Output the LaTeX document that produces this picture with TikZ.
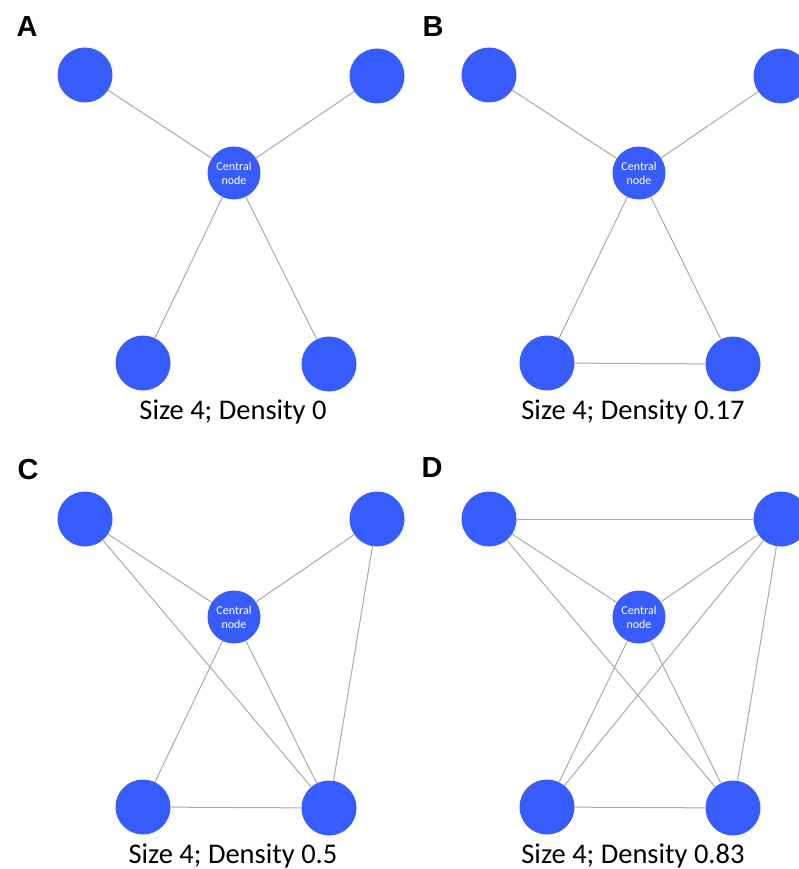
\documentclass[tikz,border=0pt]{standalone}
\usepackage{fontspec}
\setmainfont{Carlito}
\newfontfamily\panelfont{Liberation Sans}
\definecolor{nodeblue}{RGB}{56,92,252}
\definecolor{edgegray}{RGB}{170,170,170}
\begin{document}
\begin{tikzpicture}[x=1pt,y=-1pt,
  outer/.style={circle,fill=nodeblue,minimum size=55pt,inner sep=0pt},
  central/.style={circle,fill=nodeblue,minimum size=53pt,inner sep=0pt,text=white,align=center,font=\fontsize{12}{14}\selectfont},
  edge/.style={draw=edgegray,line width=1pt},
  caption/.style={font=\fontsize{28.5}{30}\selectfont,anchor=base},
  paneltag/.style={font=\panelfont\bfseries\fontsize{29}{30}\selectfont}]
\useasboundingbox (0,0) rectangle (798,869);
\fill[white] (0,0) rectangle (798,869);
% ---------- Panel A ----------
\node[outer] (Atl) at (85,75) {};
\node[outer] (Atr) at (377,76) {};
\node[central] (Ac) at (234,173) {Central\\node};
\node[outer] (Abl) at (143,363) {};
\node[outer] (Abr) at (329,364) {};
\draw[edge] (Atl) -- (Ac);
\draw[edge] (Atr) -- (Ac);
\draw[edge] (Ac) -- (Abl);
\draw[edge] (Ac) -- (Abr);
\node[caption] (Acap) at (233,419) {Size 4; Density 0};
\node[paneltag] (Atag) at (27,27) {A};
% ---------- Panel B ----------
\node[outer] (Btl) at (489,75) {};
\node[outer] (Btr) at (781,76) {};
\node[central] (Bc) at (639,173) {Central\\node};
\node[outer] (Bbl) at (547,363) {};
\node[outer] (Bbr) at (733,364) {};
\draw[edge] (Btl) -- (Bc);
\draw[edge] (Btr) -- (Bc);
\draw[edge] (Bc) -- (Bbl);
\draw[edge] (Bc) -- (Bbr);
\draw[edge] (Bbl) -- (Bbr);
\node[caption] (Bcap) at (633,419) {Size 4; Density 0.17};
\node[paneltag] (Btag) at (433,27) {B};
% ---------- Panel C ----------
\node[outer] (Ctl) at (85,519) {};
\node[outer] (Ctr) at (377,519) {};
\node[central] (Cc) at (234,617) {Central\\node};
\node[outer] (Cbl) at (143,807) {};
\node[outer] (Cbr) at (329,808) {};
\draw[edge] (Ctl) -- (Cc);
\draw[edge] (Ctr) -- (Cc);
\draw[edge] (Cc) -- (Cbl);
\draw[edge] (Cc) -- (Cbr);
\draw[edge] (Ctl) -- (Cbr);
\draw[edge] (Ctr) -- (Cbr);
\draw[edge] (Cbl) -- (Cbr);
\node[caption] (Ccap) at (233,863) {Size 4; Density 0.5};
\node[paneltag] (Ctag) at (28,470) {C};
% ---------- Panel D ----------
\node[outer] (Dtl) at (489,519) {};
\node[outer] (Dtr) at (781,519) {};
\node[central] (Dc) at (639,617) {Central\\node};
\node[outer] (Dbl) at (547,807) {};
\node[outer] (Dbr) at (733,808) {};
\draw[edge] (Dtl) -- (Dtr);
\draw[edge] (Dtl) -- (Dc);
\draw[edge] (Dtl) -- (Dbr);
\draw[edge] (Dtr) -- (Dc);
\draw[edge] (Dtr) -- (Dbl);
\draw[edge] (Dtr) -- (Dbr);
\draw[edge] (Dc) -- (Dbl);
\draw[edge] (Dc) -- (Dbr);
\draw[edge] (Dbl) -- (Dbr);
\node[caption] (Dcap) at (633,863) {Size 4; Density 0.83};
\node[paneltag] (Dtag) at (432,468) {D};
\end{tikzpicture}
\end{document}
